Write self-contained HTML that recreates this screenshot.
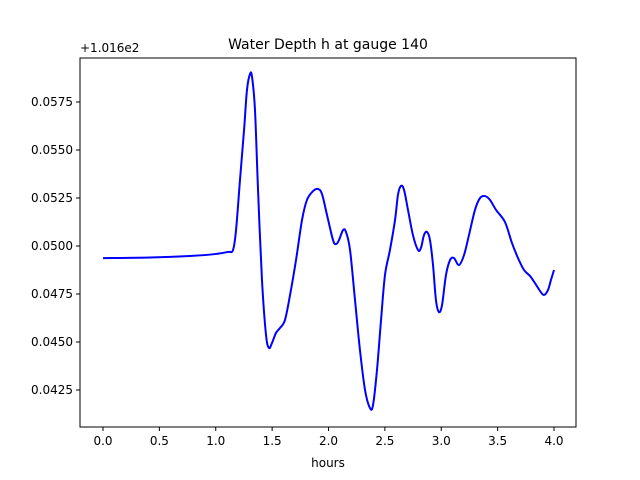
<!DOCTYPE html>
<html><head><meta charset="utf-8"><style>body{margin:0;background:#fff}svg{display:block;font-family:"DejaVu Sans","Liberation Sans",sans-serif}</style></head>
<body>
<svg id="chart" width="640" height="480">
<rect x="0" y="0" width="640" height="480" fill="#fff"/>
<text x="328" y="49" text-anchor="middle" font-size="14">Water Depth h at gauge 140</text>
<text x="80" y="52" font-size="12">+1.016e2</text>
<text x="328" y="467" text-anchor="middle" font-size="12">hours</text>
<g id="ticks"></g>
<path id="line" fill="none" stroke="#0000ff" stroke-width="2" stroke-linejoin="round"/>
<rect x="80" y="58" width="496" height="369" fill="none" stroke="#000" stroke-width="1"/>
</svg>
<script>
const hours=[0,0.417,0.772,0.993,1.109,1.153,1.180,1.215,1.251,1.277,1.304,1.322,1.348,1.375,1.410,1.446,1.472,1.499,1.534,1.570,1.614,1.659,1.712,1.765,1.809,1.863,1.907,1.942,1.987,2.040,2.067,2.093,2.129,2.155,2.191,2.235,2.279,2.324,2.368,2.395,2.430,2.466,2.501,2.545,2.590,2.616,2.643,2.670,2.705,2.749,2.794,2.820,2.847,2.874,2.900,2.927,2.953,2.980,3.007,3.042,3.078,3.113,3.157,3.202,3.246,3.299,3.344,3.388,3.432,3.486,3.565,3.627,3.681,3.734,3.787,3.831,3.876,3.911,3.947,3.973,4.000];
const depth=[0.04937,0.04940,0.04948,0.04958,0.04969,0.04979,0.05083,0.05344,0.05604,0.05813,0.05896,0.05880,0.05708,0.05292,0.04823,0.04536,0.04469,0.04495,0.04547,0.04573,0.04615,0.04745,0.04927,0.05135,0.05240,0.05286,0.05297,0.05271,0.05161,0.05031,0.05010,0.05031,0.05083,0.05073,0.04979,0.04719,0.04458,0.04250,0.04156,0.04172,0.04354,0.04615,0.04849,0.04979,0.05135,0.05266,0.05313,0.05292,0.05188,0.05057,0.04979,0.04990,0.05057,0.05073,0.05031,0.04901,0.04719,0.04656,0.04693,0.04849,0.04927,0.04937,0.04901,0.04953,0.05057,0.05188,0.05250,0.05260,0.05240,0.05188,0.05125,0.05016,0.04937,0.04875,0.04844,0.04807,0.04766,0.04745,0.04771,0.04823,0.04875];
const xTicks=[0,0.5,1,1.5,2,2.5,3,3.5,4];
const xTickLabels=["0.0","0.5","1.0","1.5","2.0","2.5","3.0","3.5","4.0"];
const yTicks=[0.0425,0.045,0.0475,0.05,0.0525,0.055,0.0575];
const yTickLabels=["0.0425","0.0450","0.0475","0.0500","0.0525","0.0550","0.0575"];
const X=v=>103+v*112.75;
const Y=v=>102+(0.0575-v)*19200;
const ns="http://www.w3.org/2000/svg";
const g=document.getElementById('ticks');
function mk(t,a){const e=document.createElementNS(ns,t);for(const k in a)e.setAttribute(k,a[k]);g.appendChild(e);return e;}
xTicks.forEach((v,i)=>{
 const l=mk('line',{x1:X(v),x2:X(v),y1:427,y2:431,stroke:'#000'});
 
 
 const t=mk('text',{x:X(v),y:445,'text-anchor':'middle','font-size':12});
 t.textContent=xTickLabels[i];
 
 
});
yTicks.forEach((v,i)=>{
 const l=mk('line',{x1:76,x2:80,y1:Y(v),y2:Y(v),stroke:'#000'});
 
 
 const t=mk('text',{x:73,y:Y(v)+4,'text-anchor':'end','font-size':12});
 t.textContent=yTickLabels[i];
 
 
});
// Catmull-Rom smoothing
const P=hours.map((h,i)=>[X(h),Y(depth[i])]);
let d='M'+P[0][0]+','+P[0][1];
for(let i=0;i<P.length-1;i++){
 const p0=P[Math.max(i-1,0)],p1=P[i],p2=P[i+1],p3=P[Math.min(i+2,P.length-1)];
 const c1=[p1[0]+(p2[0]-p0[0])/6,p1[1]+(p2[1]-p0[1])/6];
 const c2=[p2[0]-(p3[0]-p1[0])/6,p2[1]-(p3[1]-p1[1])/6];
 d+=` C${c1[0]},${c1[1]} ${c2[0]},${c2[1]} ${p2[0]},${p2[1]}`;
}
document.getElementById('line').setAttribute('d',d);
</script>
</body></html>
